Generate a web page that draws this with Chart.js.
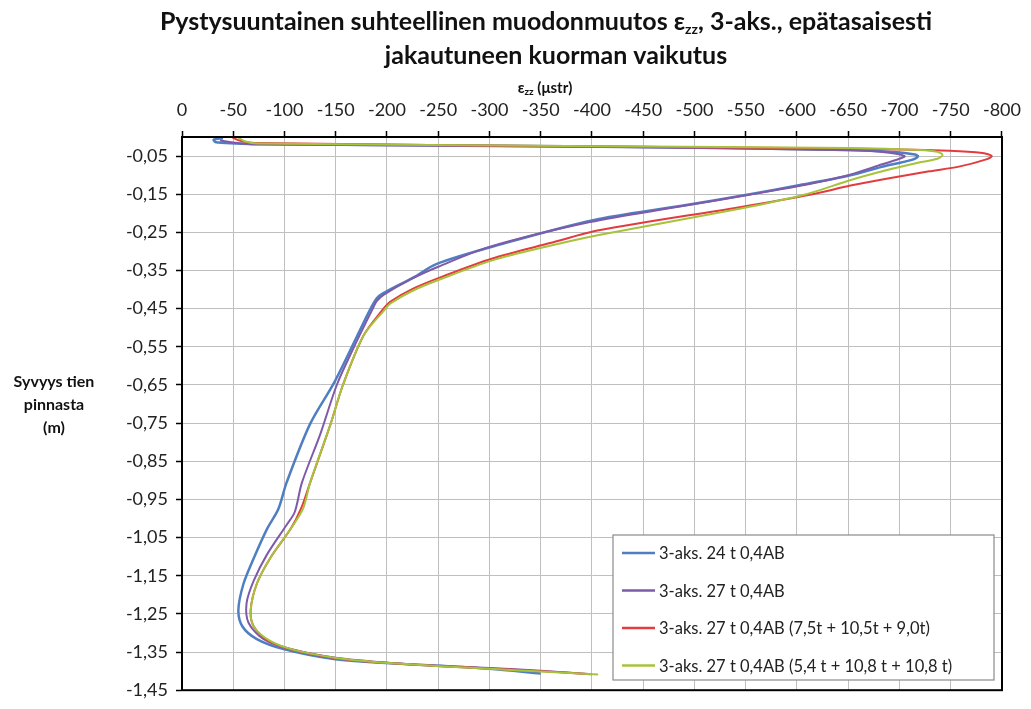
<!DOCTYPE html>
<html><head><meta charset="utf-8">
<script src="https://cdn.jsdelivr.net/npm/chart.js@4.4.0/dist/chart.umd.min.js"></script>
<style>html,body{margin:0;padding:0;background:#fff;}#wrap{width:1031px;height:709px;}</style>
</head><body><div id="wrap"><canvas id="c" width="1031" height="709"></canvas></div>
<script>
// ---------- data ----------
const seriesLabels = [
  '3-aks. 24 t 0,4AB',
  '3-aks. 27 t 0,4AB',
  '3-aks. 27 t 0,4AB (7,5t + 10,5t + 9,0t)',
  '3-aks. 27 t 0,4AB (5,4 t + 10,8 t + 10,8 t)'
];
const seriesColors = ['#4f7fc0', '#7f5aaa', '#e23c3f', '#a7c33c'];

const s1Strain = [-40,-31,-33,-52,-76,-408,-651,-695,-715,-718,-712,-683,-651,-603,-554,-486,-401,-310,-248,-226,-196,-190,-183,-171,-149,-125,-102,-94,-83,-70,-60,-55,-59,-73,-99,-148,-213,-252,-300,-350];
const s1Depth  = [-0.003,-0.007,-0.014,-0.017,-0.019,-0.025,-0.034,-0.039,-0.046,-0.051,-0.060,-0.078,-0.101,-0.126,-0.150,-0.181,-0.218,-0.282,-0.333,-0.368,-0.410,-0.423,-0.455,-0.521,-0.641,-0.752,-0.906,-0.975,-1.027,-1.104,-1.171,-1.240,-1.283,-1.316,-1.342,-1.368,-1.381,-1.386,-1.394,-1.406];

const s2Strain = [-37,-52,-70,-408,-651,-690,-705,-700,-679,-647,-599,-552,-484,-398,-300,-250,-223,-197,-190,-187,-167,-151,-135,-117,-110,-102,-83,-70,-63,-65,-80,-106,-150,-201,-252,-300,-350,-400];
const s2Depth  = [-0.009,-0.015,-0.019,-0.026,-0.035,-0.041,-0.050,-0.057,-0.075,-0.102,-0.130,-0.152,-0.183,-0.223,-0.288,-0.340,-0.373,-0.413,-0.430,-0.445,-0.555,-0.650,-0.778,-0.906,-0.983,-1.017,-1.094,-1.163,-1.222,-1.274,-1.317,-1.342,-1.365,-1.378,-1.386,-1.392,-1.399,-1.408];

const s3Strain = [-49,-57,-71,-408,-651,-749,-781,-790,-783,-759,-729,-690,-651,-615,-544,-408,-359,-302,-252,-225,-203,-196,-177,-157,-145,-125,-116,-106,-86,-73,-67,-70,-84,-108,-150,-201,-252,-300,-350,-398];
const s3Depth  = [-0.001,-0.010,-0.016,-0.025,-0.030,-0.036,-0.042,-0.050,-0.060,-0.077,-0.090,-0.108,-0.128,-0.150,-0.184,-0.244,-0.278,-0.319,-0.368,-0.398,-0.432,-0.452,-0.521,-0.650,-0.752,-0.906,-0.975,-1.027,-1.104,-1.171,-1.240,-1.283,-1.320,-1.344,-1.366,-1.379,-1.387,-1.393,-1.400,-1.408];

const s4Strain = [-55,-61,-74,-408,-651,-720,-737,-742,-737,-717,-686,-651,-609,-544,-408,-359,-302,-252,-225,-203,-197,-177,-157,-145,-125,-118,-106,-86,-73,-67,-70,-86,-110,-152,-203,-252,-300,-350,-406];
const s4Depth  = [-0.002,-0.011,-0.017,-0.024,-0.029,-0.034,-0.039,-0.047,-0.057,-0.068,-0.088,-0.114,-0.150,-0.188,-0.256,-0.285,-0.324,-0.373,-0.403,-0.437,-0.455,-0.521,-0.650,-0.752,-0.906,-0.975,-1.027,-1.104,-1.171,-1.240,-1.283,-1.321,-1.345,-1.366,-1.379,-1.387,-1.394,-1.401,-1.409];

const strainTicks = [0,-50,-100,-150,-200,-250,-300,-350,-400,-450,-500,-550,-600,-650,-700,-750,-800];
const depthTicks = [-1.45,-1.35,-1.25,-1.15,-1.05,-0.95,-0.85,-0.75,-0.65,-0.55,-0.45,-0.35,-0.25,-0.15,-0.05];

const titleLine1 = [{t:'Pystysuuntainen suhteellinen muodonmuutos ε'},{t:'zz',sub:true},{t:', 3-aks., epätasaisesti'}];
const titleLine2 = [{t:'jakautuneen kuorman vaikutus'}];
const xTitle = [{t:'ε'},{t:'zz',sub:true},{t:' (μstr)'}];
const yTitleLines = ['Syvyys tien','pinnasta','(m)'];

// ---------- chart ----------
const FONT = 'Lato, "DejaVu Sans", sans-serif';
const strainSets = [s1Strain, s2Strain, s3Strain, s4Strain];
const depthSets = [s1Depth, s2Depth, s3Depth, s4Depth];
const lineWidths = [2.5, 2, 2, 2];

function drawRich(ctx, parts, cx, cy, size, subSize, subDy) {
  let w = 0;
  parts.forEach(p => { ctx.font = 'bold ' + (p.sub ? subSize : size) + 'px ' + FONT; p.w = ctx.measureText(p.t).width; w += p.w; });
  let x = cx - w / 2;
  ctx.textAlign = 'left'; ctx.textBaseline = 'middle';
  parts.forEach(p => { ctx.font = 'bold ' + (p.sub ? subSize : size) + 'px ' + FONT; ctx.fillText(p.t, x, cy + (p.sub ? subDy : 0)); x += p.w; });
}

const decor = {
  id: 'decor',
  afterDraw(chart) {
    const ctx = chart.ctx, a = chart.chartArea;
    ctx.save();
    ctx.strokeStyle = '#000'; ctx.lineWidth = 2;
    ctx.strokeRect(a.left, a.top, a.right - a.left, a.bottom - a.top);
    ctx.fillStyle = '#111';
    drawRich(ctx, titleLine1, 546, 22, 25, 14, 7);
    drawRich(ctx, titleLine2, 556, 56, 25, 14, 7);
    drawRich(ctx, xTitle, 545, 88, 15, 10, 4);
    ctx.font = 'bold 16px ' + FONT; ctx.textAlign = 'center'; ctx.textBaseline = 'middle';
    yTitleLines.forEach((s, i) => ctx.fillText(s, 54, 382 + i * 23));
    // legend
    const lx = 613, ly = 535, lw = 381, lh = 145;
    ctx.fillStyle = '#fff'; ctx.fillRect(lx, ly, lw, lh);
    ctx.strokeStyle = '#8a8a8a'; ctx.lineWidth = 1.2; ctx.strokeRect(lx, ly, lw, lh);
    chart.data.datasets.forEach((ds, i) => {
      const y = 553 + i * 37.5;
      ctx.strokeStyle = ds.borderColor; ctx.lineWidth = 2.5;
      ctx.beginPath(); ctx.moveTo(622, y); ctx.lineTo(655, y); ctx.stroke();
      ctx.fillStyle = '#222'; ctx.font = '16.5px ' + FONT; ctx.textAlign = 'left'; ctx.textBaseline = 'middle';
      ctx.fillText(ds.label, 659, y + 1);
    });
    ctx.restore();
  }
};

new Chart(document.getElementById('c').getContext('2d'), {
  type: 'scatter',
  data: {
    datasets: seriesLabels.map((lab, i) => ({
      label: lab,
      data: strainSets[i].map((v, j) => ({x: v, y: depthSets[i][j]})),
      showLine: true, borderColor: seriesColors[i], backgroundColor: seriesColors[i],
      borderWidth: lineWidths[i], pointRadius: 0, tension: 0.3, fill: false,
      order: seriesLabels.length - 1 - i
    }))
  },
  options: {
    responsive: false, animation: false, devicePixelRatio: 1,
    layout: {padding: {left: 0, top: 0, right: 29, bottom: 7}},
    plugins: {legend: {display: false}, title: {display: false}, tooltip: {enabled: false}},
    scales: {
      x: {
        type: 'linear', position: 'top', reverse: true, min: -800, max: 0,
        afterBuildTicks: s => { s.ticks = strainTicks.map(v => ({value: v})); },
        afterFit: s => { s.height = 137; },
        grid: {color: '#bfbfbf', lineWidth: 1, tickColor: '#000', tickLength: 6, tickWidth: 1.5},
        border: {color: '#000', width: 2},
        ticks: {font: {family: FONT, size: 18}, color: '#222', padding: 10, maxRotation: 0, autoSkip: false, callback: v => String(v)}
      },
      y: {
        type: 'linear', min: -1.45, max: 0,
        afterBuildTicks: s => { s.ticks = depthTicks.map(v => ({value: v})); },
        afterFit: s => { s.width = 182; },
        grid: {color: '#bfbfbf', lineWidth: 1, tickColor: '#000', tickLength: 6, tickWidth: 1.5},
        border: {color: '#000', width: 2},
        ticks: {font: {family: FONT, size: 18}, color: '#222', padding: 8, autoSkip: false, callback: v => v.toFixed(2).replace('.', ',')}
      }
    }
  },
  plugins: [decor]
});
</script></body></html>
